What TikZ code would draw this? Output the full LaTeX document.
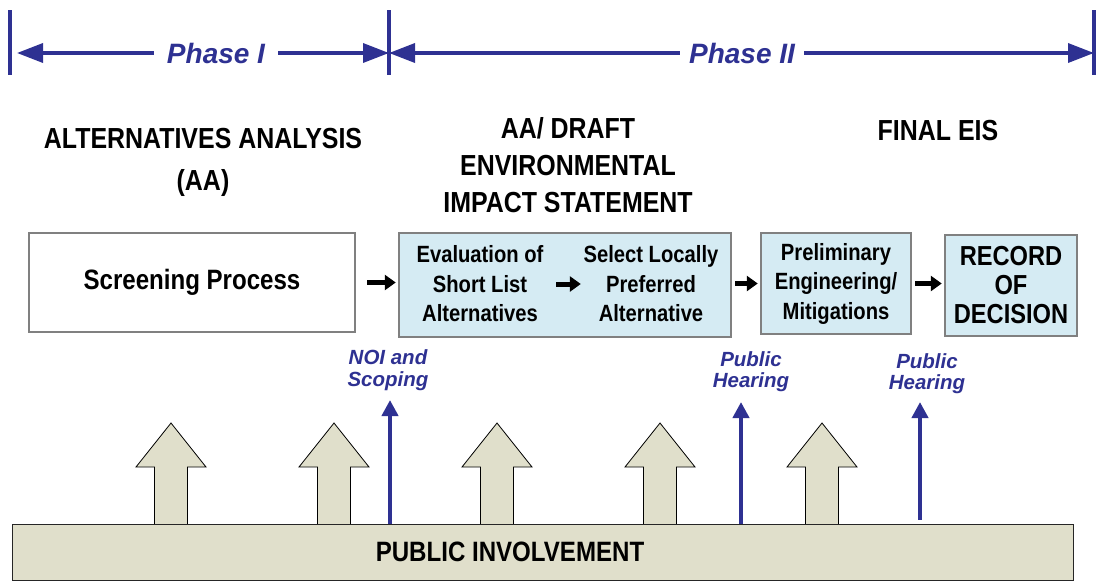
\documentclass[tikz,border=0pt]{standalone}
\usepackage{fontspec}
\setmainfont{Liberation Sans}
\newfontfamily\narrowfont[FakeStretch=0.86]{Liberation Sans}
\usetikzlibrary{arrows.meta}
\definecolor{phaseblue}{RGB}{46,49,146}
\definecolor{stageblue}{RGB}{213,235,243}
\definecolor{boxgray}{RGB}{128,128,128}
\definecolor{beige}{RGB}{224,223,203}
\tikzset{
	phasebar/.style={phaseblue, line width=3.5pt},
	phaseline/.style={phaseblue, line width=3.5pt, >={Triangle[length=26pt,width=19pt]}},
	phaselabel/.style={text=phaseblue, font=\bfseries\itshape\fontsize{28}{30}\selectfont},
	heading/.style={align=center, font=\narrowfont\bfseries\fontsize{29}{37}\selectfont},
	plainbox/.style={draw=boxgray, line width=2.5pt, fill=white, align=center},
	stagebox/.style={draw=boxgray, line width=2.5pt, fill=stageblue, align=center},
	boxtext/.style={align=center, font=\narrowfont\bfseries\fontsize{23.5}{29.5}\selectfont},
	flow/.style={line width=5pt, -{Triangle[length=11pt,width=15pt]}, shorten <=3pt, shorten >=2pt},
	eventlabel/.style={align=center, text=phaseblue, font=\bfseries\itshape\fontsize{20.5}{21.5}\selectfont},
	event/.style={phaseblue, line width=4.5pt, -{Triangle[length=16pt,width=16pt]}},
	upblock/.style={fill=beige, draw=black, line width=0.8pt, line join=miter},
	bandbox/.style={fill=beige, draw=black!85, line width=1pt}
}
\begin{document}
\begin{tikzpicture}[x=1pt, y=-1pt]
	\useasboundingbox (0,0) rectangle (1097,581);
	% phase ruler
	\coordinate (pstart) at (10,53);
	\coordinate (pmid) at (389,53);
	\coordinate (pend) at (1094,53);
	\foreach \p in {pstart, pmid, pend}
		\draw[phasebar] ([yshift=43pt]\p) -- ([yshift=-22pt]\p);
	\node[phaselabel, inner xsep=13pt] (phaseI) at (216,53) {Phase I};
	\node[phaselabel, inner xsep=9pt] (phaseII) at (742,53) {Phase II};
	\draw[phaseline, <-, shorten <=7pt] (pstart) -- (phaseI.west);
	\draw[phaseline, ->] (phaseI.east) -- (pmid);
	\draw[phaseline, <-] (pmid) -- (phaseII.west);
	\draw[phaseline, ->] (phaseII.east) -- (pend);
	% headings
	\node[heading, font=\narrowfont\bfseries\fontsize{29}{42}\selectfont] (aahead) at (203,162) {ALTERNATIVES ANALYSIS\\(AA)};
	\node[heading] (deishead) at (568,165) {AA/ DRAFT\\ENVIRONMENTAL\\IMPACT STATEMENT};
	\node[heading] (finalhead) at (938,131) {FINAL EIS};
	% stages
	\node[plainbox, minimum width=326pt, minimum height=99pt,
		font=\narrowfont\bfseries\fontsize{28}{30}\selectfont] (screen) at (192,282.5) {Screening Process};
	\node[stagebox, minimum width=332pt, minimum height=104pt] (evalbox) at (565,285) {};
	\node[boxtext, minimum width=146pt, inner sep=0pt] (shortlist) at (480,284) {Evaluation of\\Short List\\Alternatives};
	\node[boxtext, minimum width=136pt, inner sep=0pt] (lpa) at (651,284) {Select Locally\\Preferred\\Alternative};
	\node[stagebox, boxtext, minimum width=150pt, minimum height=101pt] (prelim) at (836,283.5) {Preliminary\\Engineering/\\Mitigations};
	\node[stagebox, minimum width=132pt, minimum height=101pt,
		font=\narrowfont\bfseries\fontsize{27.5}{29}\selectfont] (record) at (1011,285.5) {RECORD\\OF\\DECISION};
	\draw[flow, shorten <=11pt] (screen.east) -- (screen.east -| evalbox.west);
	\draw[flow] (shortlist) -- (lpa);
	\draw[flow] (evalbox.east |- prelim.west) -- (prelim.west);
	\draw[flow] (prelim.east) -- (prelim.east -| record.west);
	% public involvement
	\foreach \x in {171,334,497,660,822}
		\filldraw[upblock] (\x-16.5,524) -- (\x-16.5,467) -- (\x-35,467) -- (\x,423)
			-- (\x+35,467) -- (\x+16.5,467) -- (\x+16.5,524);
	\node[bandbox, minimum width=1061pt, minimum height=56pt] (band) at (542.5,552) {};
	\node[font=\narrowfont\bfseries\fontsize{28}{30}\selectfont] (pi) at (510,552) {PUBLIC INVOLVEMENT};
	% milestones
	\node[eventlabel] (noi) at (388,370) {NOI and\\Scoping};
	\node[eventlabel] (hearingA) at (751,371.5) {Public\\Hearing};
	\node[eventlabel] (hearingB) at (927,373.5) {Public\\Hearing};
	\coordinate (noitip) at (390,400);
	\coordinate (hearingAtip) at (741,402);
	\coordinate (hearingBtip) at (920,402);
	\draw[event] (band.north -| noitip) -- (noitip);
	\draw[event] (band.north -| hearingAtip) -- (hearingAtip);
	\draw[event, shorten <=4pt] (band.north -| hearingBtip) -- (hearingBtip);
\end{tikzpicture}
\end{document}
